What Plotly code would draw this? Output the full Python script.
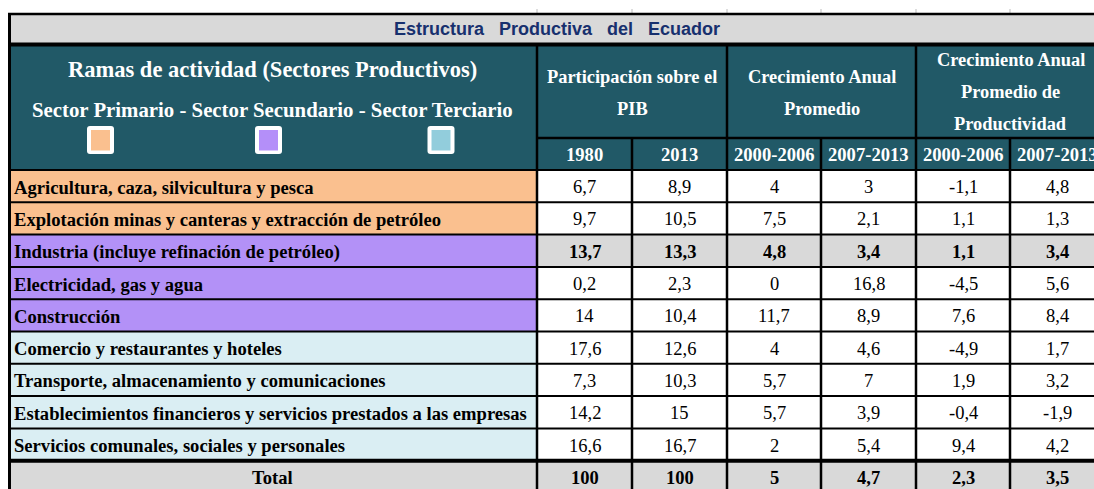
import plotly.graph_objects as go

# ---------------- data ----------------
title = "Estructura Productiva del Ecuador"
ramas_header = "Ramas de actividad (Sectores Productivos)"
sector_header = "Sector Primario - Sector Secundario - Sector Terciario"
group_headers = [
    ["Participación sobre el", "PIB"],
    ["Crecimiento Anual", "Promedio"],
    ["Crecimiento Anual", "Promedio de", "Productividad"],
]
sub_headers = ["1980", "2013", "2000-2006", "2007-2013", "2000-2006", "2007-2013"]

ramas = [
    "Agricultura, caza, silvicultura y pesca",
    "Explotación minas y canteras y extracción de petróleo",
    "Industria (incluye refinación de petróleo)",
    "Electricidad, gas y agua",
    "Construcción",
    "Comercio y restaurantes y hoteles",
    "Transporte, almacenamiento y comunicaciones",
    "Establecimientos financieros y servicios prestados a las empresas",
    "Servicios comunales, sociales y personales",
]
sector = [0, 0, 1, 1, 1, 2, 2, 2, 2]  # 0 primario, 1 secundario, 2 terciario
bold_rows = [2]

pib_1980 = [6.7, 9.7, 13.7, 0.2, 14, 17.6, 7.3, 14.2, 16.6]
pib_2013 = [8.9, 10.5, 13.3, 2.3, 10.4, 12.6, 10.3, 15, 16.7]
crec_2000_2006 = [4, 7.5, 4.8, 0, 11.7, 4, 5.7, 5.7, 2]
crec_2007_2013 = [3, 2.1, 3.4, 16.8, 8.9, 4.6, 7, 3.9, 5.4]
prod_2000_2006 = [-1.1, 1.1, 1.1, -4.5, 7.6, -4.9, 1.9, -0.4, 9.4]
prod_2007_2013 = [4.8, 1.3, 3.4, 5.6, 8.4, 1.7, 3.2, -1.9, 4.2]

total_label = "Total"
totals = [100, 100, 5, 4.7, 2.3, 3.5]

# ---------------- styles / layout ----------------
W, H = 1094, 489
col_edges = [8, 537, 632, 727, 821, 916, 1010, 1105]
group_spans = [(1, 3), (3, 5), (5, 7)]
title_top, title_bot = 14, 45
head_bot = 170
sub_top = 138
row_h = 32.3
n_rows = len(ramas)

TEAL = "#215967"
GRAY = "#d9d9d9"
sector_fill = ["#fac08f", "#b391f7", "#daeef3"]
square_fill = ["#fac08f", "#b48ff9", "#92cddc"]
square_cx = [100.5, 268.5, 441]
TITLE_COLOR = "#17306e"
SERIF = "Liberation Serif, Times New Roman, serif"
SANS = "Liberation Sans, Arial, sans-serif"

columns = [pib_1980, pib_2013, crec_2000_2006, crec_2007_2013, prod_2000_2006, prod_2007_2013]


def fmt(v):
    return f"{v:g}".replace(".", ",")


def row_top(i):
    return head_bot + i * row_h


shapes = []
annotations = []


def rect(x0, y0, x1, y1, fill):
    shapes.append(dict(type="rect", xref="x", yref="y", x0=x0, y0=y0, x1=x1, y1=y1,
                       fillcolor=fill, line=dict(width=0), layer="below"))


def line(x0, y0, x1, y1, w, color="black"):
    shapes.append(dict(type="line", xref="x", yref="y", x0=x0, y0=y0, x1=x1, y1=y1,
                       line=dict(color=color, width=w)))


def rounded(x0, y0, x1, y1, r, fill):
    p = (f"M{x0+r},{y0} L{x1-r},{y0} Q{x1},{y0} {x1},{y0+r} L{x1},{y1-r} "
         f"Q{x1},{y1} {x1-r},{y1} L{x0+r},{y1} Q{x0},{y1} {x0},{y1-r} "
         f"L{x0},{y0+r} Q{x0},{y0} {x0+r},{y0} Z")
    shapes.append(dict(type="path", xref="x", yref="y", path=p, fillcolor=fill,
                       line=dict(width=0)))


def text(x, y, s, size, color="black", bold=False, family=SERIF, anchor="center"):
    if bold:
        s = f"<b>{s}</b>"
    annotations.append(dict(x=x, y=y, xref="x", yref="y", text=s, showarrow=False,
                            xanchor=anchor, yanchor="middle",
                            font=dict(family=family, size=size, color=color)))


x_left, x_right = col_edges[0], col_edges[-1]
total_top = row_top(n_rows)
total_bot = total_top + row_h

# backgrounds
rect(x_left, title_top, x_right, title_bot, GRAY)
rect(x_left, title_bot, x_right, head_bot, TEAL)
for i in range(n_rows):
    y0, y1 = row_top(i), row_top(i + 1)
    rect(x_left, y0, col_edges[1], y1, sector_fill[sector[i]])
    rect(col_edges[1], y0, x_right, y1, GRAY if i in bold_rows else "white")
rect(x_left, total_top, x_right, total_bot, GRAY)

# faint grid ticks above the table
for xe in col_edges[1:]:
    line(xe, 9, xe, title_top, 1, "#bdbdbd")

# header squares
sq_half = 13.5
sq_cy = 140
for k, cx in enumerate(square_cx):
    rounded(cx - sq_half, sq_cy - 14, cx + sq_half, sq_cy + 14, 3, "white")
    shapes.append(dict(type="rect", xref="x", yref="y", x0=cx - sq_half + 4, x1=cx + sq_half - 4,
                       y0=sq_cy - 10, y1=sq_cy + 10.5, fillcolor=square_fill[k], line=dict(width=0)))

# lines
line(x_left, title_top, x_right, title_top, 2.5)
line(x_left, title_bot - 0.5, x_right, title_bot - 0.5, 4)
line(x_left, head_bot, x_right, head_bot, 2)
line(col_edges[1], sub_top, x_right, sub_top, 2.5)
for i in range(1, n_rows):
    line(x_left, row_top(i), x_right, row_top(i), 2)
line(x_left, total_top, x_right, total_top, 4)
line(x_left + 1.5, title_top - 1, x_left + 1.5, H, 3)
for j in range(1, len(col_edges) - 1):
    top = title_bot if any(j == g[0] for g in group_spans) else sub_top
    line(col_edges[j], top, col_edges[j], H, 2.5)

# title
text((x_left + x_right) / 2, 29, title.replace(" ", "\u00a0\u00a0\u00a0"), 18,
     TITLE_COLOR, True, SANS)

# header texts
c1 = (col_edges[0] + col_edges[1]) / 2
text(c1, 69, ramas_header, 22.5, "white", True)
text(c1, 109, sector_header, 20.8, "white", True)

line_y = {2: [77, 109], 3: [60, 92, 124]}
for g, (a, b) in enumerate(group_spans):
    cx = (col_edges[a] + col_edges[b]) / 2
    lines = group_headers[g]
    for k, s in enumerate(lines):
        text(cx, line_y[len(lines)][k], s, 18.4, "white", True)

for j, s in enumerate(sub_headers):
    cx = (col_edges[j + 1] + col_edges[j + 2]) / 2
    text(cx, 154, s, 18.6, "white", True)

# body
for i in range(n_rows):
    cy = (row_top(i) + row_top(i + 1)) / 2 + 1
    text(12, cy, ramas[i], 18.6, "black", True, anchor="left")
    for j, col in enumerate(columns):
        cx = (col_edges[j + 1] + col_edges[j + 2]) / 2
        text(cx, cy, fmt(col[i]), 18.5, "black", i in bold_rows)

cy = (total_top + total_bot) / 2 + 1
text(c1, cy, total_label, 18.6, "black", True)
for j, v in enumerate(totals):
    cx = (col_edges[j + 1] + col_edges[j + 2]) / 2
    text(cx, cy, fmt(v), 18.5, "black", True)

fig = go.Figure()
fig.add_trace(go.Scatter(x=[0, W], y=[0, H], mode="markers",
                         marker=dict(opacity=0), hoverinfo="skip", showlegend=False))
fig.update_layout(
    width=W, height=H, margin=dict(l=0, r=0, t=0, b=0),
    paper_bgcolor="white", plot_bgcolor="white",
    xaxis=dict(range=[0, W], visible=False, fixedrange=True),
    yaxis=dict(range=[H, 0], visible=False, fixedrange=True),
    shapes=shapes, annotations=annotations, showlegend=False,
)
fig.write_html(
    "out.html",
    config={"displayModeBar": False},
    post_script="document.body.style.margin='0';document.body.style.overflow='hidden';",
)
